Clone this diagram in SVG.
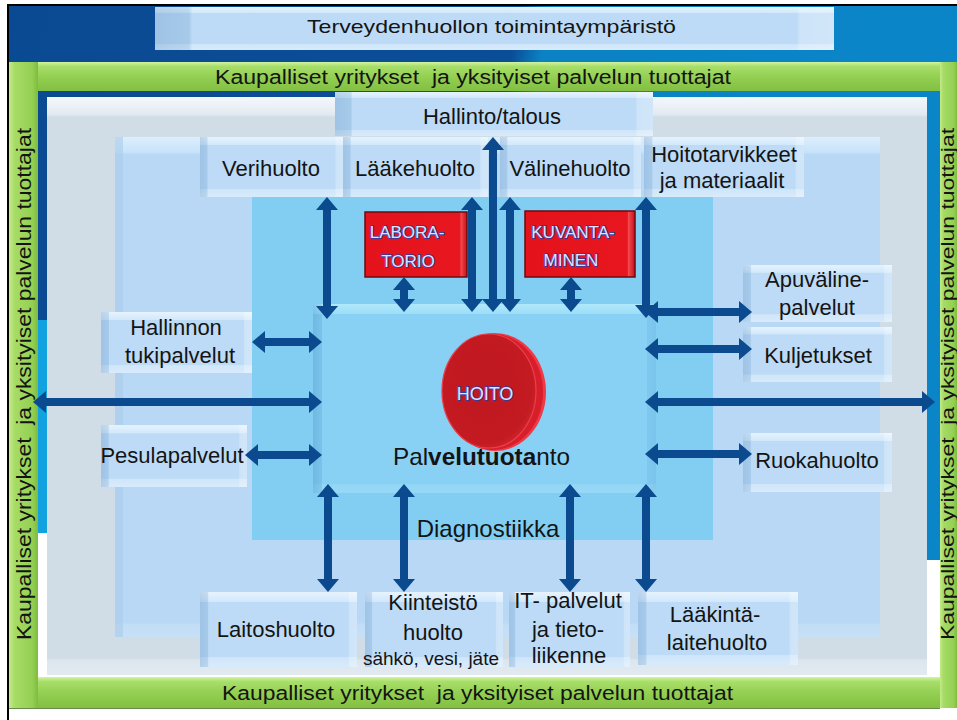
<svg xmlns="http://www.w3.org/2000/svg" width="957" height="720" viewBox="0 0 957 720">
<defs>
<style>
.t{font-family:"Liberation Sans",Arial,sans-serif;fill:#141414;}
.lb{font-size:22px;text-anchor:middle;}
.box{fill:url(#boxV);}
.boxo{fill:url(#boxH);}
.red{fill:url(#redG);stroke:#6e0a0e;stroke-width:1.5;}
.rt{font-family:"Liberation Sans",Arial,sans-serif;font-size:17px;fill:#e2e2ff;stroke:#2c3ca0;stroke-width:1.6;paint-order:stroke;text-anchor:middle;}
.arr{stroke:#0b4a8e;stroke-width:8;fill:none;marker-start:url(#ah);marker-end:url(#ah);}
</style>
<marker id="ah" viewBox="0 0 13 22" refX="1" refY="11" markerWidth="13" markerHeight="22" markerUnits="userSpaceOnUse" orient="auto-start-reverse">
<path d="M0,0 L13,11 L0,22 z" fill="#0b4a8e"/>
</marker>
<linearGradient id="bg" x1="0" y1="0" x2="1" y2="0.15">
<stop offset="0" stop-color="#0a4a92"/>
<stop offset="0.53" stop-color="#0b4e98"/>
<stop offset="0.56" stop-color="#0a82c4"/>
<stop offset="1" stop-color="#0a86c8"/>
</linearGradient>
<linearGradient id="boxV" x1="0" y1="0" x2="0" y2="1">
<stop offset="0" stop-color="#e6f3fe"/>
<stop offset="0.13" stop-color="#d2e8fb"/>
<stop offset="0.14" stop-color="#bddbf6"/>
<stop offset="0.86" stop-color="#bddbf6"/>
<stop offset="0.87" stop-color="#cfe5f9"/>
<stop offset="1" stop-color="#d8ebfb"/>
</linearGradient>
<linearGradient id="boxH" x1="0" y1="0" x2="1" y2="0">
<stop offset="0" stop-color="#4f86bb" stop-opacity="0.28"/>
<stop offset="0.05" stop-color="#4f86bb" stop-opacity="0.2"/>
<stop offset="0.055" stop-color="#4f86bb" stop-opacity="0"/>
<stop offset="0.945" stop-color="#ffffff" stop-opacity="0"/>
<stop offset="0.95" stop-color="#ffffff" stop-opacity="0.25"/>
<stop offset="1" stop-color="#ffffff" stop-opacity="0.3"/>
</linearGradient>
<linearGradient id="grayV" x1="0" y1="0" x2="0" y2="1">
<stop offset="0" stop-color="#f4f8fc"/>
<stop offset="0.03" stop-color="#e2eaf1"/>
<stop offset="0.035" stop-color="#d0dce6"/>
<stop offset="0.97" stop-color="#d0dce6"/>
<stop offset="0.975" stop-color="#dde6ee"/>
<stop offset="1" stop-color="#e2eaf1"/>
</linearGradient>
<linearGradient id="midV" x1="0" y1="0" x2="0" y2="1">
<stop offset="0" stop-color="#dbeefd"/>
<stop offset="0.03" stop-color="#c9e3fa"/>
<stop offset="0.035" stop-color="#b8d8f6"/>
<stop offset="0.97" stop-color="#b8d8f6"/>
<stop offset="0.975" stop-color="#c2ddf6"/>
<stop offset="1" stop-color="#c6e0f7"/>
</linearGradient>
<linearGradient id="ctrV" x1="0" y1="0" x2="0" y2="1">
<stop offset="0" stop-color="#b0e8fc"/>
<stop offset="0.05" stop-color="#9edef8"/>
<stop offset="0.055" stop-color="#88d0f4"/>
<stop offset="0.95" stop-color="#88d0f4"/>
<stop offset="0.955" stop-color="#92d6f6"/>
<stop offset="1" stop-color="#98d8f6"/>
</linearGradient>
<linearGradient id="ctrH" x1="0" y1="0" x2="1" y2="0">
<stop offset="0" stop-color="#3f8cc4" stop-opacity="0.35"/>
<stop offset="0.025" stop-color="#3f8cc4" stop-opacity="0.2"/>
<stop offset="0.027" stop-color="#3f8cc4" stop-opacity="0"/>
<stop offset="0.973" stop-color="#3f8cc4" stop-opacity="0"/>
<stop offset="0.975" stop-color="#3f8cc4" stop-opacity="0.12"/>
<stop offset="1" stop-color="#3f8cc4" stop-opacity="0.18"/>
</linearGradient>
<linearGradient id="grH" x1="0" y1="0" x2="0" y2="1">
<stop offset="0" stop-color="#d2f4a0"/>
<stop offset="0.15" stop-color="#a8de6a"/>
<stop offset="0.5" stop-color="#94d052"/>
<stop offset="1" stop-color="#82bf42"/>
</linearGradient>
<linearGradient id="grVl" x1="0" y1="0" x2="1" y2="0">
<stop offset="0" stop-color="#c2ec88"/>
<stop offset="0.2" stop-color="#a6dc66"/>
<stop offset="0.8" stop-color="#94d052"/>
<stop offset="1" stop-color="#7fbb40"/>
</linearGradient>
<linearGradient id="redG" x1="0" y1="0" x2="1" y2="0">
<stop offset="0" stop-color="#e4121a"/>
<stop offset="0.93" stop-color="#e8161e"/>
<stop offset="0.94" stop-color="#f24a50"/>
<stop offset="1" stop-color="#c80e16"/>
</linearGradient>
<radialGradient id="coin" cx="0.45" cy="0.45" r="0.6">
<stop offset="0" stop-color="#bf1820"/>
<stop offset="0.85" stop-color="#c41a22"/>
<stop offset="1" stop-color="#d42630"/>
</radialGradient>
</defs>

<!-- background -->
<rect x="0" y="0" width="957" height="720" fill="#ffffff"/>
<rect x="9" y="6" width="948" height="671" fill="url(#bg)"/>
<rect x="38" y="320" width="10" height="213" fill="#12a2e0"/>
<rect x="38" y="533" width="10" height="144" fill="#ffffff"/>
<rect x="926" y="560" width="14" height="117" fill="#ffffff"/>
<rect x="38" y="674" width="902" height="4" fill="#ffffff"/>
<path d="M8,720 V5 H957" fill="none" stroke="#000000" stroke-width="2"/>

<!-- green frame -->
<g id="frame-green">
<rect x="9" y="62" width="29" height="646" fill="url(#grVl)"/>
<rect x="940" y="62" width="17" height="646" fill="url(#grVl)"/>
<rect x="38" y="62" width="902" height="29" fill="url(#grH)"/>
<rect x="38" y="677" width="902" height="31" fill="url(#grH)"/>
<line x1="9" y1="708.5" x2="940" y2="708.5" stroke="#6a8a50" stroke-width="1"/>
<text class="t" x="215" y="84" font-size="20" textLength="516" lengthAdjust="spacingAndGlyphs" xml:space="preserve">Kaupalliset yritykset  ja yksityiset palvelun tuottajat</text>
<text class="t" x="222" y="700" font-size="20" textLength="511" lengthAdjust="spacingAndGlyphs" xml:space="preserve">Kaupalliset yritykset  ja yksityiset palvelun tuottajat</text>
<text class="t" transform="translate(31,384) rotate(-90)" text-anchor="middle" font-size="21" textLength="512" lengthAdjust="spacingAndGlyphs" xml:space="preserve">Kaupalliset yritykset  ja yksityiset palvelun tuottajat</text>
<text class="t" transform="translate(954,384) rotate(-90)" text-anchor="middle" font-size="19" textLength="512" lengthAdjust="spacingAndGlyphs" xml:space="preserve">Kaupalliset yritykset  ja yksityiset palvelun tuottajat</text>
</g>

<!-- title -->
<g id="title">
<rect x="155" y="7" width="679" height="43" class="box"/>
<rect x="155" y="7" width="679" height="43" class="boxo"/>
<text class="t" x="307" y="33" font-size="19" textLength="369" lengthAdjust="spacingAndGlyphs">Terveydenhuollon toimintaympäristö</text>
</g>

<!-- panels -->
<g id="panels">
<rect x="47" y="97" width="880" height="578" fill="url(#grayV)"/>
<rect x="115" y="137" width="765" height="500" fill="url(#midV)"/>
<rect x="115" y="137" width="8" height="500" fill="#a9cbe9" opacity="0.6"/>
<rect x="252" y="197" width="461" height="343" fill="#82cef2"/>
</g>

<g id="hallinto-talous">
<rect x="335" y="92" width="318" height="44" class="box"/>
<rect x="335" y="92" width="318" height="44" class="boxo"/>
<text class="t lb" x="492" y="124">Hallinto/talous</text>
</g>

<g id="verihuolto">
<rect x="200" y="137" width="143" height="60" class="box"/>
<rect x="200" y="137" width="143" height="60" class="boxo"/>
<text class="t lb" x="271" y="176">Verihuolto</text>
</g>
<g id="laakehuolto">
<rect x="343" y="137" width="145" height="60" class="box"/>
<rect x="343" y="137" width="145" height="60" class="boxo"/>
<text class="t lb" x="415" y="176">Lääkehuolto</text>
</g>
<g id="valinehuolto">
<rect x="500" y="137" width="141" height="60" class="box"/>
<rect x="500" y="137" width="141" height="60" class="boxo"/>
<text class="t lb" x="570" y="176">Välinehuolto</text>
</g>
<g id="hoitotarvikkeet">
<rect x="644" y="137" width="160" height="60" class="box"/>
<rect x="644" y="137" width="160" height="60" class="boxo"/>
<text class="t lb" x="724" y="162">Hoitotarvikkeet</text>
<text class="t lb" x="722" y="188">ja materiaalit</text>
</g>

<g id="laboratorio">
<rect x="365" y="212" width="102" height="65" class="red"/>
<text class="rt" x="407" y="238">LABORA-</text>
<text class="rt" x="408" y="267">TORIO</text>
</g>
<g id="kuvantaminen">
<rect x="525" y="211" width="110" height="66" class="red"/>
<text class="rt" x="573" y="238">KUVANTA-</text>
<text class="rt" x="571" y="266">MINEN</text>
</g>

<g id="hallinnon-tukipalvelut">
<rect x="101" y="312" width="151" height="61" class="box"/>
<rect x="101" y="312" width="151" height="61" class="boxo"/>
<text class="t lb" x="176" y="335">Hallinnon</text>
<text class="t lb" x="180" y="363">tukipalvelut</text>
</g>
<g id="pesulapalvelut">
<rect x="101" y="425" width="146" height="62" class="box"/>
<rect x="101" y="425" width="146" height="62" class="boxo"/>
<text class="t lb" x="172" y="463">Pesulapalvelut</text>
</g>

<g id="apuvalinepalvelut">
<rect x="743" y="265" width="149" height="57" class="box"/>
<rect x="743" y="265" width="149" height="57" class="boxo"/>
<text class="t lb" x="817" y="287">Apuväline-</text>
<text class="t lb" x="817" y="315">palvelut</text>
</g>
<g id="kuljetukset">
<rect x="743" y="327" width="149" height="55" class="box"/>
<rect x="743" y="327" width="149" height="55" class="boxo"/>
<text class="t lb" x="818" y="363">Kuljetukset</text>
</g>
<g id="ruokahuolto">
<rect x="743" y="433" width="149" height="59" class="box"/>
<rect x="743" y="433" width="149" height="59" class="boxo"/>
<text class="t lb" x="817" y="468">Ruokahuolto</text>
</g>

<g id="laitoshuolto">
<rect x="200" y="592" width="157" height="75" class="box"/>
<rect x="200" y="592" width="157" height="75" class="boxo"/>
<text class="t lb" x="276" y="637">Laitoshuolto</text>
</g>
<g id="kiinteistohuolto">
<rect x="365" y="592" width="138" height="75" class="box"/>
<rect x="365" y="592" width="138" height="75" class="boxo"/>
<text class="t lb" x="433" y="610">Kiinteistö</text>
<text class="t lb" x="433" y="640">huolto</text>
<text class="t" x="431" y="665" font-size="18" text-anchor="middle" textLength="136" lengthAdjust="spacingAndGlyphs">sähkö, vesi, jäte</text>
</g>
<g id="it-palvelut">
<rect x="509" y="592" width="121" height="75" class="box"/>
<rect x="509" y="592" width="121" height="75" class="boxo"/>
<text class="t lb" x="568" y="608">IT- palvelut</text>
<text class="t lb" x="568" y="637">ja tieto-</text>
<text class="t lb" x="569" y="663">liikenne</text>
</g>
<g id="laakintalaitehuolto">
<rect x="638" y="592" width="160" height="73" class="box"/>
<rect x="638" y="592" width="160" height="73" class="boxo"/>
<text class="t lb" x="715" y="622">Lääkintä-</text>
<text class="t lb" x="717" y="650">laitehuolto</text>
</g>

<g id="palvelutuotanto">
<rect x="313" y="304" width="343" height="189" fill="url(#ctrV)"/>
<rect x="313" y="304" width="343" height="189" fill="url(#ctrH)"/>
<text class="t" x="393" y="465" font-size="24" textLength="177" lengthAdjust="spacingAndGlyphs">Pal<tspan font-weight="bold">velutuota</tspan>nto</text>
</g>

<g id="hoito">
<ellipse cx="495" cy="392" rx="51" ry="59" fill="#ee3a46"/>
<ellipse cx="493" cy="392" rx="50" ry="58" fill="#d81e2a"/>
<ellipse cx="489" cy="391" rx="47" ry="57" fill="url(#coin)" stroke="#e8404a" stroke-width="1.2"/>
<text class="rt" x="485" y="400" style="font-size:18px">HOITO</text>
</g>

<g id="diagnostiikka">
<text class="t" x="488" y="537" font-size="24" text-anchor="middle">Diagnostiikka</text>
</g>

<!-- connectors -->
<g id="connectors">
<line class="arr" x1="327" y1="209" x2="327" y2="307"/>
<line class="arr" x1="404" y1="289" x2="404" y2="300"/>
<line class="arr" x1="472" y1="209" x2="472" y2="300"/>
<line class="arr" x1="493" y1="149" x2="493" y2="300"/>
<line class="arr" x1="510" y1="209" x2="510" y2="300"/>
<line class="arr" x1="571" y1="289" x2="571" y2="300"/>
<line class="arr" x1="646" y1="209" x2="646" y2="306"/>
<line class="arr" x1="657" y1="312" x2="740" y2="312"/>
<line class="arr" x1="657" y1="349" x2="740" y2="349"/>
<line class="arr" x1="657" y1="402" x2="923" y2="402"/>
<line class="arr" x1="657" y1="454" x2="740" y2="454"/>
<line class="arr" x1="264" y1="342" x2="310" y2="342"/>
<line class="arr" x1="45" y1="402" x2="310" y2="402"/>
<line class="arr" x1="257" y1="455" x2="310" y2="455"/>
<line class="arr" x1="328" y1="496" x2="328" y2="580"/>
<line class="arr" x1="404" y1="496" x2="404" y2="580"/>
<line class="arr" x1="570" y1="496" x2="570" y2="580"/>
<line class="arr" x1="646" y1="496" x2="646" y2="580"/>
</g>
</svg>
